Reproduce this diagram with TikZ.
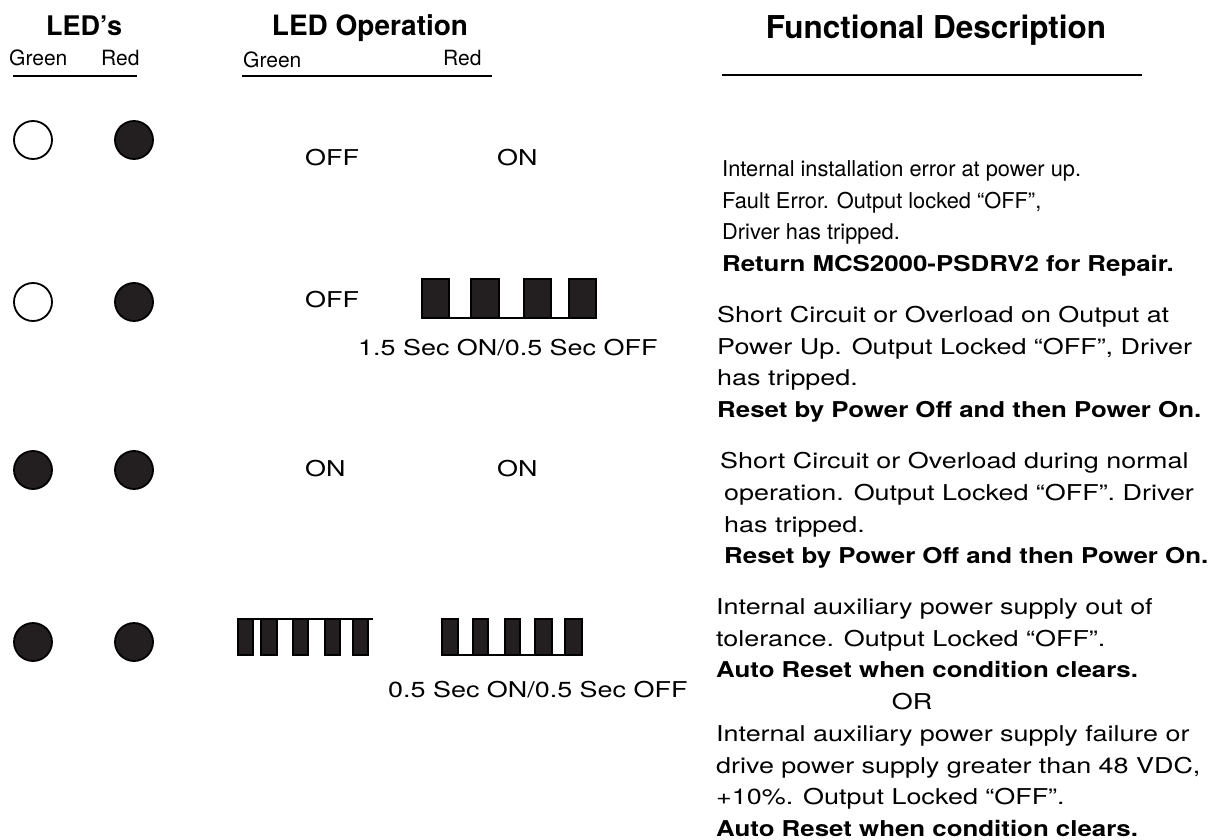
\documentclass[tikz,border=0pt]{standalone}
\usepackage{fontspec}
\setmainfont{TeX Gyre Heros}
\newfontfamily\descfont[FakeStretch=1.235]{TeX Gyre Heros}
\newfontfamily\descbold[FakeStretch=1.186]{TeX Gyre Heros Bold}
\definecolor{ledfill}{HTML}{231F20}
\begin{document}
\begin{tikzpicture}[x=1pt,y=-1pt,
  txt/.style={anchor=base west, inner sep=0pt, font=\descfont\fontsize{21.8}{31.7}\selectfont},
  ntxt/.style={anchor=base west, inner sep=0pt, font=\fontsize{21.8}{31.7}\selectfont},
  btxt/.style={anchor=base west, inner sep=0pt, font=\descbold\fontsize{21.8}{31.7}\selectfont},
  ctxt/.style={txt, anchor=base},
  sub/.style={anchor=base west, inner sep=0pt, font=\fontsize{21}{25}\selectfont},
  head/.style={anchor=base, inner sep=0pt, font=\fontsize{28}{32}\selectfont\bfseries},
  rule/.style={line width=2.6pt},
  ledoff/.style={circle, draw=black, line width=1.8pt, minimum size=38pt, inner sep=0pt, fill=white},
  ledon/.style={ledoff, fill=ledfill},
  pulse/.style={fill=ledfill, draw=black, line width=1.2pt},
  wline/.style={line width=2pt}]
\useasboundingbox (0,0) rectangle (1216,840);
% headers
\node[head, font=\fontsize{27}{32}\selectfont\bfseries] (hleds) at (84,36) {LED’s};
\node[sub] (hg1) at (9,66) {Green};
\node[sub] (hr1) at (101,66) {Red};
\coordinate (l1a) at (13,76); \coordinate (l1b) at (137,76);
\draw[rule] (l1a) -- (l1b);
\node[head] (hop) at (370,36) {LED Operation};
\node[sub] (hg2) at (243,68) {Green};
\node[sub] (hr2) at (443,66) {Red};
\coordinate (l2a) at (242,76); \coordinate (l2b) at (492,76);
\draw[rule] (l2a) -- (l2b);
\node[head, font=\fontsize{31.5}{34}\selectfont\bfseries] (hfd) at (936,39) {Functional Description};
\coordinate (l3a) at (722,75); \coordinate (l3b) at (1142,75);
\draw[rule] (l3a) -- (l3b);
% LEDs
\node[ledoff] (g1) at (33,140) {};
\node[ledon] (r1) at (134,140) {};
\node[ledoff] (g2) at (33,302) {};
\node[ledon] (r2) at (134,302) {};
\node[ledon] (g3) at (33,470) {};
\node[ledon] (r3) at (134,470) {};
\node[ledon] (g4) at (33,642) {};
\node[ledon] (r4) at (134,642) {};
% operation row 1
\node[txt] (o1g) at (305,166) {OFF};
\node[txt] (o1r) at (497,166) {ON};
% row 2
\node[txt] (o2g) at (305,307) {OFF};
\draw[wline] (422,318) -- (596,318);
\foreach \a/\b in {422/449,471/499,524/551,569/596}
  \draw[pulse] (\a,279) rectangle (\b,318);
\node[txt] (o2t) at (358,355) {1.5 Sec ON/0.5 Sec OFF};
% row 3
\node[txt] (o3g) at (305,476) {ON};
\node[txt] (o3r) at (497,476) {ON};
% row 4
\draw[wline] (238,619) -- (373,619);
\foreach \a/\b in {238/253,261/277,293/308,325/340,353/368}
  \draw[pulse] (\a,619) rectangle (\b,655);
\draw[wline] (442,655) -- (582,655);
\foreach \a/\b in {442/458,473/488,505/520,535/552,565/582}
  \draw[pulse] (\a,619) rectangle (\b,655);
\node[txt] (o4t) at (388,697) {0.5 Sec ON/0.5 Sec OFF};
% descriptions
\node[ntxt] (d11) at (722,176) {Internal installation error at power up.};
\node[ntxt] (d12) at (722,208) {Fault Error. Output locked “OFF”,};
\node[ntxt] (d13) at (722,239) {Driver has tripped.};
\node[btxt] (d14) at (722,271) {Return MCS2000-PSDRV2 for Repair.};
\node[txt] (d21) at (717,322) {Short Circuit or Overload on Output at};
\node[txt] (d22) at (717,354) {Power Up. Output Locked “OFF”, Driver};
\node[txt] (d23) at (717,385) {has tripped.};
\node[btxt] (d24) at (717,417) {Reset by Power Off and then Power On.};
\node[txt] (d31) at (720,468) {Short Circuit or Overload during normal};
\node[txt] (d32) at (724,500) {operation. Output Locked “OFF”. Driver};
\node[txt] (d33) at (724,532) {has tripped.};
\node[btxt] (d34) at (724,563) {Reset by Power Off and then Power On.};
\node[txt] (d41) at (716,614) {Internal auxiliary power supply out of};
\node[txt] (d42) at (716,646) {tolerance. Output Locked “OFF”.};
\node[btxt] (d43) at (716,677) {Auto Reset when condition clears.};
\node[ctxt] (d44) at (912,709) {OR};
\node[txt] (d45) at (716,741) {Internal auxiliary power supply failure or};
\node[txt] (d46) at (716,773) {drive power supply greater than 48 VDC,};
\node[txt] (d47) at (716,804) {+10\%. Output Locked “OFF”.};
\node[btxt] (d48) at (716,836) {Auto Reset when condition clears.};
\end{tikzpicture}
\end{document}
